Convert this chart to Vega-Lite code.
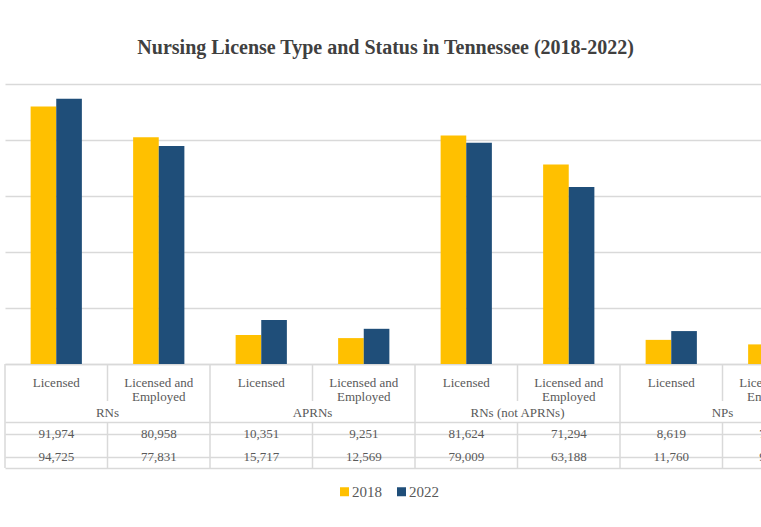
{
  "$schema": "https://vega.github.io/schema/vega-lite/v6.json",
  "background": "#ffffff",
  "padding": {"left": 4, "top": 38, "right": 0, "bottom": 0},
  "spacing": 0,
  "bounds": "flush",
  "title": {
    "text": "Nursing License Type and Status in Tennessee (2018-2022)",
    "font": "Liberation Serif",
    "fontSize": 20,
    "fontWeight": "bold",
    "color": "#404040",
    "offset": 26,
    "dx": -29,
    "anchor": "middle"
  },
  "datasets": {
    "bars": [
      {"col": "RNs|Licensed", "year": "2018", "value": 91974},
      {"col": "RNs|Licensed", "year": "2022", "value": 94725},
      {"col": "RNs|Employed", "year": "2018", "value": 80958},
      {"col": "RNs|Employed", "year": "2022", "value": 77831},
      {"col": "APRNs|Licensed", "year": "2018", "value": 10351},
      {"col": "APRNs|Licensed", "year": "2022", "value": 15717},
      {"col": "APRNs|Employed", "year": "2018", "value": 9251},
      {"col": "APRNs|Employed", "year": "2022", "value": 12569},
      {"col": "RNsNot|Licensed", "year": "2018", "value": 81624},
      {"col": "RNsNot|Licensed", "year": "2022", "value": 79009},
      {"col": "RNsNot|Employed", "year": "2018", "value": 71294},
      {"col": "RNsNot|Employed", "year": "2022", "value": 63188},
      {"col": "NPs|Licensed", "year": "2018", "value": 8619},
      {"col": "NPs|Licensed", "year": "2022", "value": 11760},
      {"col": "NPs|Employed", "year": "2018", "value": 7000},
      {"col": "NPs|Employed", "year": "2022", "value": 9500}
    ],
    "cols": [
      {"col": "RNs|Licensed", "sub": "Licensed", "group": "RNs", "first": true},
      {"col": "RNs|Employed", "sub": "Licensed and\nEmployed", "group": "RNs", "first": false},
      {"col": "APRNs|Licensed", "sub": "Licensed", "group": "APRNs", "first": true},
      {"col": "APRNs|Employed", "sub": "Licensed and\nEmployed", "group": "APRNs", "first": false},
      {"col": "RNsNot|Licensed", "sub": "Licensed", "group": "RNs (not APRNs)", "first": true},
      {"col": "RNsNot|Employed", "sub": "Licensed and\nEmployed", "group": "RNs (not APRNs)", "first": false},
      {"col": "NPs|Licensed", "sub": "Licensed", "group": "NPs", "first": true},
      {"col": "NPs|Employed", "sub": "Licensed and\nEmployed", "group": "NPs", "first": false}
    ]
  },
  "vconcat": [
    {
      "width": 820,
      "height": 280,
      "data": {"name": "bars"},
      "mark": {"type": "bar"},
      "encoding": {
        "x": {
          "field": "col", "type": "nominal",
          "scale": {"domain": ["RNs|Licensed","RNs|Employed","APRNs|Licensed","APRNs|Employed","RNsNot|Licensed","RNsNot|Employed","NPs|Licensed","NPs|Employed"], "paddingInner": 0, "paddingOuter": 0},
          "axis": {"labels": false, "ticks": false, "title": null, "domain": true, "domainColor": "#d9d9d9", "domainWidth": 1.5, "grid": false}
        },
        "xOffset": {
          "field": "year", "type": "nominal",
          "scale": {"paddingInner": 0, "paddingOuter": 1.146}
        },
        "y": {
          "field": "value", "type": "quantitative",
          "scale": {"domain": [0, 100000], "nice": false},
          "axis": {"labels": false, "ticks": false, "domain": false, "title": null, "grid": true, "gridColor": "#d9d9d9", "gridWidth": 1.5, "values": [0, 20000, 40000, 60000, 80000, 100000]}
        },
        "color": {
          "field": "year", "type": "nominal",
          "scale": {"domain": ["2018", "2022"], "range": ["#FFC000", "#1F4E79"]},
          "legend": {
            "orient": "none", "legendX": 332, "legendY": 400,
            "direction": "horizontal", "title": null,
            "symbolType": "square", "symbolSize": 81, "symbolStrokeWidth": 0,
            "labelFont": "Liberation Serif", "labelFontSize": 15, "labelColor": "#595959",
            "labelOffset": 0, "columnPadding": 12, "padding": 0
          }
        }
      }
    },
    {
      "width": 820,
      "height": 37,
      "data": {"name": "cols"},
      "encoding": {
        "x": {
          "field": "col", "type": "nominal",
          "scale": {"domain": ["RNs|Licensed","RNs|Employed","APRNs|Licensed","APRNs|Employed","RNsNot|Licensed","RNsNot|Employed","NPs|Licensed","NPs|Employed"], "paddingInner": 0, "paddingOuter": 0},
          "axis": null
        }
      },
      "layer": [
        {
          "mark": {"type": "rule", "color": "#d9d9d9", "strokeWidth": 1.5},
          "encoding": {"x": {"field": "col", "type": "nominal", "bandPosition": 0}}
        },
        {
          "mark": {"type": "text", "font": "Liberation Serif", "fontSize": 13, "color": "#595959", "lineBreak": "\n", "lineHeight": 14},
          "encoding": {"text": {"field": "sub"}}
        }
      ]
    },
    {
      "width": 820,
      "height": 21,
      "data": {"name": "cols"},
      "transform": [{"filter": "datum.first"}],
      "encoding": {
        "x": {
          "field": "col", "type": "nominal",
          "scale": {"domain": ["RNs|Licensed","RNs|Employed","APRNs|Licensed","APRNs|Employed","RNsNot|Licensed","RNsNot|Employed","NPs|Licensed","NPs|Employed"], "paddingInner": 0, "paddingOuter": 0},
          "axis": {"labels": false, "ticks": false, "title": null, "domain": true, "domainColor": "#d9d9d9", "domainWidth": 1.5, "grid": false}
        }
      },
      "layer": [
        {
          "mark": {"type": "rule", "color": "#d9d9d9", "strokeWidth": 1.5},
          "encoding": {"x": {"field": "col", "type": "nominal", "bandPosition": 0}}
        },
        {
          "mark": {"type": "text", "font": "Liberation Serif", "fontSize": 13, "color": "#595959", "dy": 1},
          "encoding": {
            "x": {"field": "col", "type": "nominal", "bandPosition": 1},
            "text": {"field": "group"}
          }
        }
      ]
    },
    {
      "width": 820,
      "height": 46,
      "encoding": {
        "x": {
          "field": "col", "type": "nominal",
          "scale": {"domain": ["RNs|Licensed","RNs|Employed","APRNs|Licensed","APRNs|Employed","RNsNot|Licensed","RNsNot|Employed","NPs|Licensed","NPs|Employed"], "paddingInner": 0, "paddingOuter": 0},
          "axis": {"labels": false, "ticks": false, "title": null, "domain": true, "domainColor": "#d9d9d9", "domainWidth": 1.5, "grid": false}
        }
      },
      "layer": [
        {
          "data": {"name": "cols"},
          "mark": {"type": "rule", "color": "#d9d9d9", "strokeWidth": 1.5},
          "encoding": {"x": {"field": "col", "type": "nominal", "bandPosition": 0}}
        },
        {
          "data": {"name": "bars"},
          "mark": {"type": "text", "font": "Liberation Serif", "fontSize": 13, "color": "#595959"},
          "encoding": {
            "y": {
              "field": "year", "type": "nominal",
              "scale": {"domain": ["2018", "2022"], "paddingInner": 0, "paddingOuter": 0},
              "axis": {"labels": false, "ticks": false, "title": null, "domain": false, "grid": true, "bandPosition": 0, "gridColor": "#d9d9d9", "gridWidth": 1.5}
            },
            "text": {"field": "value", "type": "quantitative", "format": ","}
          }
        }
      ]
    }
  ],
  "config": {
    "view": {"stroke": null}
  }
}
